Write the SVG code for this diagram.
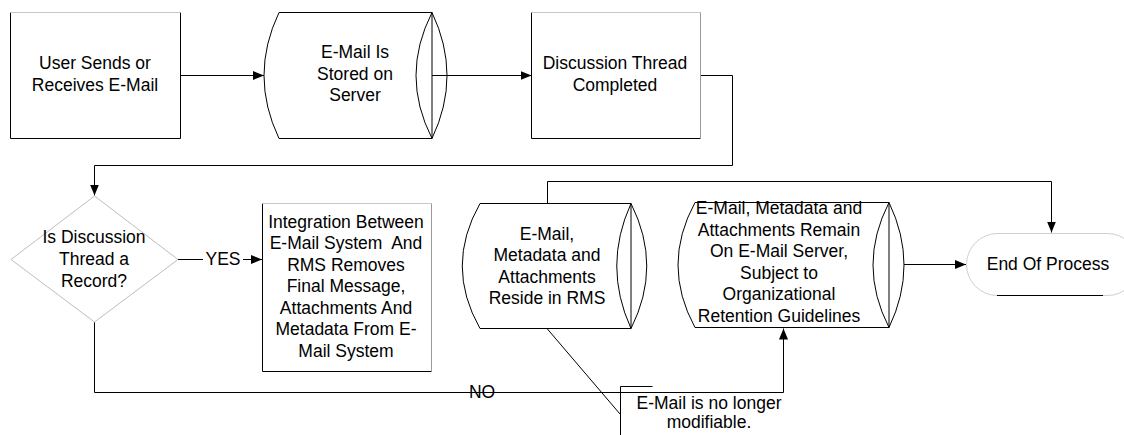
<svg xmlns="http://www.w3.org/2000/svg" width="1124" height="435" viewBox="0 0 1124 435">
<style>
.t{font-family:"Liberation Sans",Arial,sans-serif;font-size:17.5px;fill:#000;text-anchor:middle}
.s{fill:#fff;stroke:#000;stroke-width:1}
.lt{fill:none;stroke:#c8c8c8;stroke-width:1}
.gr{fill:none;stroke:#999;stroke-width:1}
.k{fill:none;stroke:#000;stroke-width:1}
.c{fill:none;stroke:#000;stroke-width:1}
</style>
<defs>
<marker id="ah" markerUnits="userSpaceOnUse" markerWidth="12" markerHeight="10" refX="11" refY="5" orient="auto">
<path d="M0,0.5 L11,5 L0,9.5 Z" fill="#000"/>
</marker>
</defs>
<rect width="1124" height="435" fill="#fff"/>
<g id="connectors">
<path class="c" d="M180.5,75.5 H264" marker-end="url(#ah)"/>
<path class="c" d="M432,75.5 H531.5" marker-end="url(#ah)"/>
<path class="c" d="M700.5,75.5 H732.5 V165.5 H94.5 V195.5" marker-end="url(#ah)"/>
<path class="c" d="M178,259.5 H203"/>
<path class="c" d="M243,259.5 H262" marker-end="url(#ah)"/>
<text class="t" x="223" y="265">YES</text>
<path class="c" d="M94.5,322 V392.5 H783.5 V328.5" marker-end="url(#ah)"/>
<text class="t" x="482" y="398">NO</text>
<path class="c" d="M547.5,203.5 V181.5 H1051.5 V232.5" marker-end="url(#ah)"/>
<path class="c" d="M904,264.5 H966" marker-end="url(#ah)"/>
<path class="c" d="M547,328.5 L620,414"/>
</g>
<g id="node-user">
<rect x="10.5" y="12.5" width="170" height="126" fill="#fff" stroke="none"/>
<path class="k" d="M10.5,12.5 V138.5 H180.5 V12.5"/>
<path class="lt" d="M10.5,12.5 H180.5"/>
<text class="t" x="95" y="69">User Sends or</text>
<text class="t" x="95" y="90.5">Receives E-Mail</text>
</g>
<g id="node-stored">
<path class="s" d="M279,12.5 H432 V138.5 H279 Q249,75.5 279,12.5 Z"/>
<path class="k" d="M432,12.5 Q400,75.5 432,138.5 M432,12.5 Q462,75.5 432,138.5"/>
<text class="t" x="355" y="58">E-Mail Is</text>
<text class="t" x="355" y="79.5">Stored on</text>
<text class="t" x="355" y="101">Server</text>
</g>
<g id="node-completed">
<rect x="531.5" y="12.5" width="169" height="126" fill="#fff" stroke="none"/>
<path class="k" d="M531.5,12.5 V138.5 H700.5"/>
<path class="lt" d="M531.5,12.5 H700.5"/>
<path class="gr" d="M700.5,12.5 V138.5"/>
<text class="t" x="615" y="69">Discussion Thread</text>
<text class="t" x="615" y="90.5">Completed</text>
</g>
<g id="node-decision">
<path d="M94.5,196 L178,259.5 L94.5,322 L11,259.5 Z" fill="#fff" stroke="#bdbdbd" stroke-width="1"/>
<text class="t" x="94" y="243">Is Discussion</text>
<text class="t" x="94" y="265">Thread a</text>
<text class="t" x="94" y="287">Record?</text>
</g>
<g id="node-integration">
<rect x="262.5" y="203.5" width="169" height="167.5" fill="#fff" stroke="none"/>
<path class="k" d="M262.5,203.5 V371.5 H431.5"/>
<path class="lt" d="M262.5,203.5 H431.5"/>
<path class="gr" d="M431.5,203.5 V371.5"/>
<text class="t" x="346" y="227.5">Integration Between</text>
<text class="t" x="346" y="249" xml:space="preserve">E-Mail System  And</text>
<text class="t" x="346" y="270.5">RMS Removes</text>
<text class="t" x="346" y="292">Final Message,</text>
<text class="t" x="346" y="313.5">Attachments And</text>
<text class="t" x="346" y="335">Metadata From E-</text>
<text class="t" x="346" y="356.5">Mail System</text>
</g>
<g id="node-rms">
<path class="s" d="M480,203.5 H631 V328.5 H480 Q444.5,266 480,203.5 Z"/>
<path class="k" d="M631,203.5 Q602.5,266 631,328.5 M631,203.5 Q662.5,266 631,328.5"/>
<text class="t" x="547" y="239.5">E-Mail,</text>
<text class="t" x="547" y="261">Metadata and</text>
<text class="t" x="547" y="282.5">Attachments</text>
<text class="t" x="547" y="304">Reside in RMS</text>
</g>
<g id="node-remain">
<path class="s" d="M695,202.5 H889 V327.5 H695 Q661,265 695,202.5 Z"/>
<path class="k" d="M889,202.5 Q857,265 889,327.5 M889,202.5 Q919,265 889,327.5"/>
<text class="t" x="779" y="214">E-Mail, Metadata and</text>
<text class="t" x="779" y="235.5">Attachments Remain</text>
<text class="t" x="779" y="257">On E-Mail Server,</text>
<text class="t" x="779" y="278.5">Subject to</text>
<text class="t" x="779" y="300">Organizational</text>
<text class="t" x="779" y="321.5">Retention Guidelines</text>
</g>
<g id="node-end">
<rect x="966.5" y="233.5" width="172" height="62" rx="31" ry="31" fill="#fff" stroke="#cfcfcf" stroke-width="1"/>
<path class="k" d="M997,295.5 H1103"/>
<text class="t" x="1048" y="269.5">End Of Process</text>
</g>
<g id="node-annotation">
<path class="k" d="M652.5,386.5 H620.5 V435"/>
<text class="t" x="709" y="409">E-Mail is no longer</text>
<text class="t" x="709" y="428">modifiable.</text>
</g>
</svg>
